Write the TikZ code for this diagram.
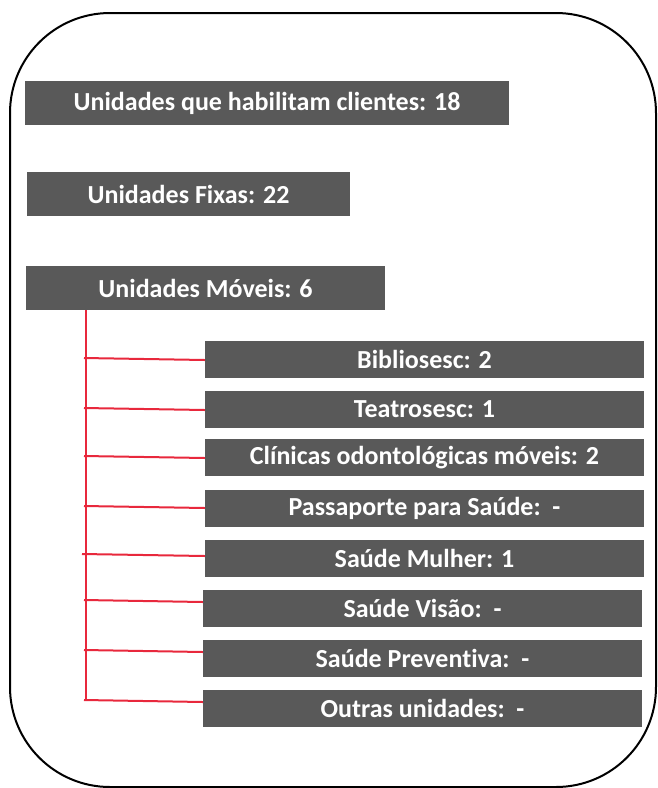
\documentclass[tikz,border=0pt]{standalone}
\usepackage{fontspec}
\setmainfont{Carlito}[Ligatures=NoCommon]
\definecolor{boxgray}{HTML}{595959}
\definecolor{linered}{HTML}{E8283C}
\tikzset{
  hbox/.style={fill=boxgray, text=white, inner sep=0pt, minimum height=44pt,
    font=\fontsize{26}{30}\selectfont\bfseries},
  sbox/.style={fill=boxgray, text=white, inner sep=0pt, minimum height=37pt,
    minimum width=439pt, font=\fontsize{26}{30}\selectfont\bfseries},
  frame/.style={draw=black, line width=2pt, rounded corners=100pt},
  link/.style={draw=linered, line width=2pt}
}
\begin{document}
\begin{tikzpicture}[x=1pt,y=-1pt]
\useasboundingbox (0,0) rectangle (657,788);
\draw[frame] (10,13) rectangle (656,787);

\node[hbox, minimum width=484pt] (h1) at (267,103) {Unidades que habilitam clientes: 18};
\node[hbox, minimum width=323pt] (h2) at (188.5,194) {Unidades Fixas: 22};
\node[hbox, minimum width=359pt] (h3) at (205.5,288) {Unidades Móveis: 6};

\node[sbox] (b1) at (424.5,359.5) {Bibliosesc: 2};
\node[sbox] (b2) at (424.5,409.5) {Teatrosesc: 1};
\node[sbox] (b3) at (424.5,457.5) {Clínicas odontológicas móveis: 2};
\node[sbox] (b4) at (424.5,508.5) {Passaporte para Saúde:\ \ -};
\node[sbox] (b5) at (424.5,558.5) {Saúde Mulher: 1};
\node[sbox] (b6) at (422.5,608.5) {Saúde Visão:\ \ -};
\node[sbox] (b7) at (422.5,658.5) {Saúde Preventiva:\ \ -};
\node[sbox] (b8) at (422.5,708.5) {Outras unidades:\ \ -};

\coordinate (tEnd) at (86,701);
\draw[link] (h3.south -| tEnd) -- (tEnd);

\coordinate (l1) at (84,358);
\coordinate (l2) at (84,408);
\coordinate (l3) at (84,456);
\coordinate (l4) at (84,506);
\coordinate (l5) at (82,554);
\coordinate (l6) at (84,600);
\coordinate (l7) at (84,650);
\coordinate (l8) at (84,700);
\draw[link] (l1) -- ([yshift=-0.5pt]b1.west);
\draw[link] (l2) -- ([yshift=-0.5pt]b2.west);
\draw[link] (l3) -- ([yshift=-0.5pt]b3.west);
\draw[link] (l4) -- ([yshift=0.5pt]b4.west);
\draw[link] (l5) -- ([yshift=2.5pt]b5.west);
\draw[link] (l6) -- ([yshift=6.5pt]b6.west);
\draw[link] (l7) -- ([yshift=6.5pt]b7.west);
\draw[link] (l8) -- ([yshift=6.5pt]b8.west);
\end{tikzpicture}
\end{document}
